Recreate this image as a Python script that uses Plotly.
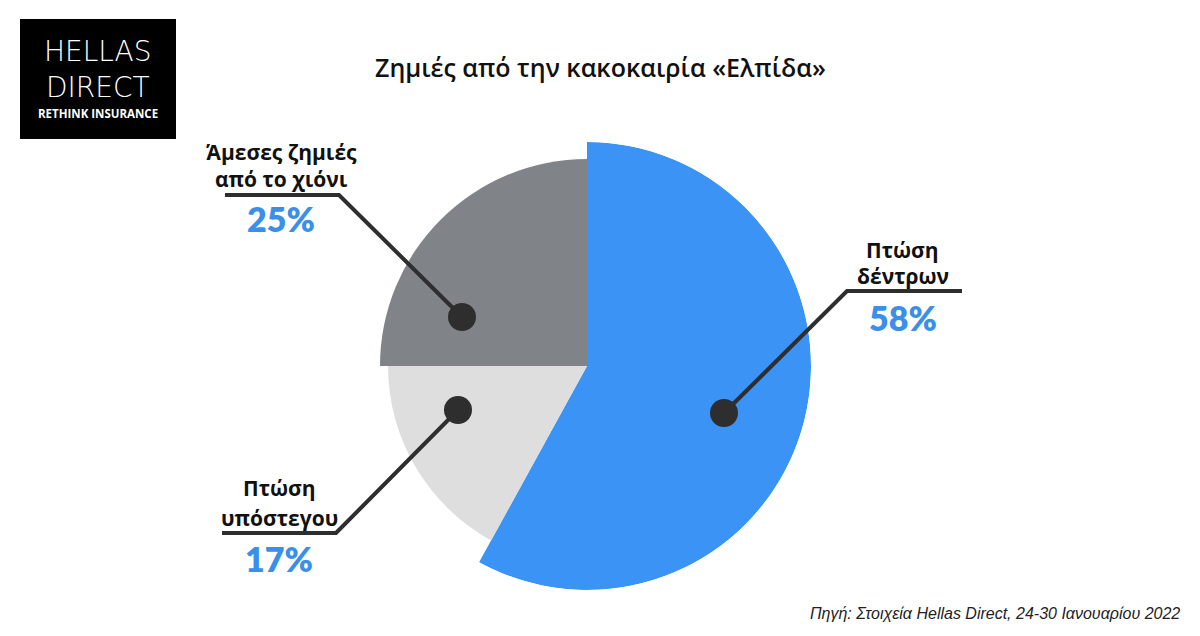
import plotly.graph_objects as go

# ---- data ----
categories = ["Πτώση δέντρων", "Πτώση υπόστεγου", "Άμεσες ζημιές από το χιόνι"]
label_lines = [["Πτώση", "δέντρων"], ["Πτώση", "υπόστεγου"], ["Άμεσες ζημιές", "από το χιόνι"]]
shares = [58, 17, 25]
title_text = "Ζημιές από την κακοκαιρία «Ελπίδα»"
source_text = "Πηγή: Στοιχεία Hellas Direct, 24-30 Ιανουαρίου 2022"

# ---- style ----
colors = ["#3A93F5", "#DEDEDE", "#808489"]
slice_radius = [224, 199, 207]
W, H = 1200, 636
cx, cy, R = 587, 366, 224
DARK = "#2E2E2E"
BLUE = "#3A8FEA"

def px(x):
    return x / W

def py(y):
    return 1 - y / H

# angles from shares
total = sum(shares)
widths = [s / total * 360 for s in shares]
centers = []
acc = 0
for w in widths:
    centers.append(acc + w / 2)
    acc += w

fig = go.Figure()
fig.add_trace(go.Barpolar(
    r=slice_radius, theta=centers, width=widths,
    marker=dict(color=colors, line=dict(width=0)),
    text=categories, hoverinfo="text", showlegend=False,
))

fig.update_layout(
    width=W, height=H,
    margin=dict(l=0, r=0, t=0, b=0),
    paper_bgcolor="white", plot_bgcolor="white",
    polar=dict(
        domain=dict(x=[px(cx - R), px(cx + R)], y=[py(cy + R), py(cy - R)]),
        bgcolor="rgba(0,0,0,0)",
        angularaxis=dict(rotation=90, direction="clockwise", visible=False,
                         showgrid=False, showline=False, showticklabels=False, ticks=""),
        radialaxis=dict(range=[0, R], visible=False, showgrid=False,
                        showline=False, showticklabels=False, ticks=""),
    ),
    bargap=0,
)

shapes = []
annotations = []

# leader lines: dot, elbow, end
leaders = [
    [(724, 413), (847, 291), (962, 291)],
    [(458, 410), (336, 533), (222, 533)],
    [(462, 317), (339, 195), (225, 195)],
]
for pts in leaders:
    path = "M " + " L ".join(f"{px(x)},{py(y)}" for x, y in pts)
    shapes.append(dict(type="path", xref="paper", yref="paper", path=path,
                       line=dict(color=DARK, width=4), layer="above"))
    dx, dy = pts[0]
    r = 14
    shapes.append(dict(type="circle", xref="paper", yref="paper",
                       x0=px(dx - r), x1=px(dx + r), y0=py(dy + r), y1=py(dy - r),
                       fillcolor=DARK, line=dict(width=0), layer="above"))

# label positions (text centers)
label_pos = [
    (903, 250, 276, 317),
    (279, 488, 518, 558),
    (281, 152, 179, 218),
]
for (lx, y1, y2, y3), lines, s in zip(label_pos, label_lines, shares):
    for yy, t in zip((y1, y2), lines):
        annotations.append(dict(x=px(lx), y=py(yy), xref="paper", yref="paper",
                                text=t, showarrow=False, xanchor="center", yanchor="middle",
                                font=dict(family="Open Sans", size=21, color="#111", weight=700)))
    annotations.append(dict(x=px(lx), y=py(y3), xref="paper", yref="paper",
                            text=f"{s}%", showarrow=False, xanchor="center", yanchor="middle",
                            font=dict(family="Lato, Open Sans", size=34, color=BLUE, weight=800)))

# title
annotations.append(dict(x=px(600), y=py(67), xref="paper", yref="paper", text=title_text,
                        showarrow=False, xanchor="center", yanchor="middle",
                        font=dict(family="Open Sans", size=25, color="#111", weight=600)))
# source
annotations.append(dict(x=px(1182), y=py(613), xref="paper", yref="paper",
                        text=f"<i>{source_text}</i>", showarrow=False,
                        xanchor="right", yanchor="middle",
                        font=dict(family="Liberation Sans, Arial", size=16, color="#222")))

# logo
shapes.append(dict(type="rect", xref="paper", yref="paper",
                   x0=px(20), x1=px(176), y0=py(139), y1=py(19),
                   fillcolor="black", line=dict(width=0), layer="above"))
annotations.append(dict(x=px(98), y=py(70), xref="paper", yref="paper", text="HELLAS<br>DIRECT",
                        showarrow=False, xanchor="center", yanchor="middle", align="center",
                        font=dict(family="DejaVu Sans", size=28, color="white", weight=200)))
annotations.append(dict(x=px(98), y=py(113), xref="paper", yref="paper", text="RETHINK INSURANCE",
                        showarrow=False, xanchor="center", yanchor="middle",
                        font=dict(family="Open Sans", size=11.5, color="white", weight=700)))

fig.update_layout(shapes=shapes, annotations=annotations)
fig.write_html("out.html")
